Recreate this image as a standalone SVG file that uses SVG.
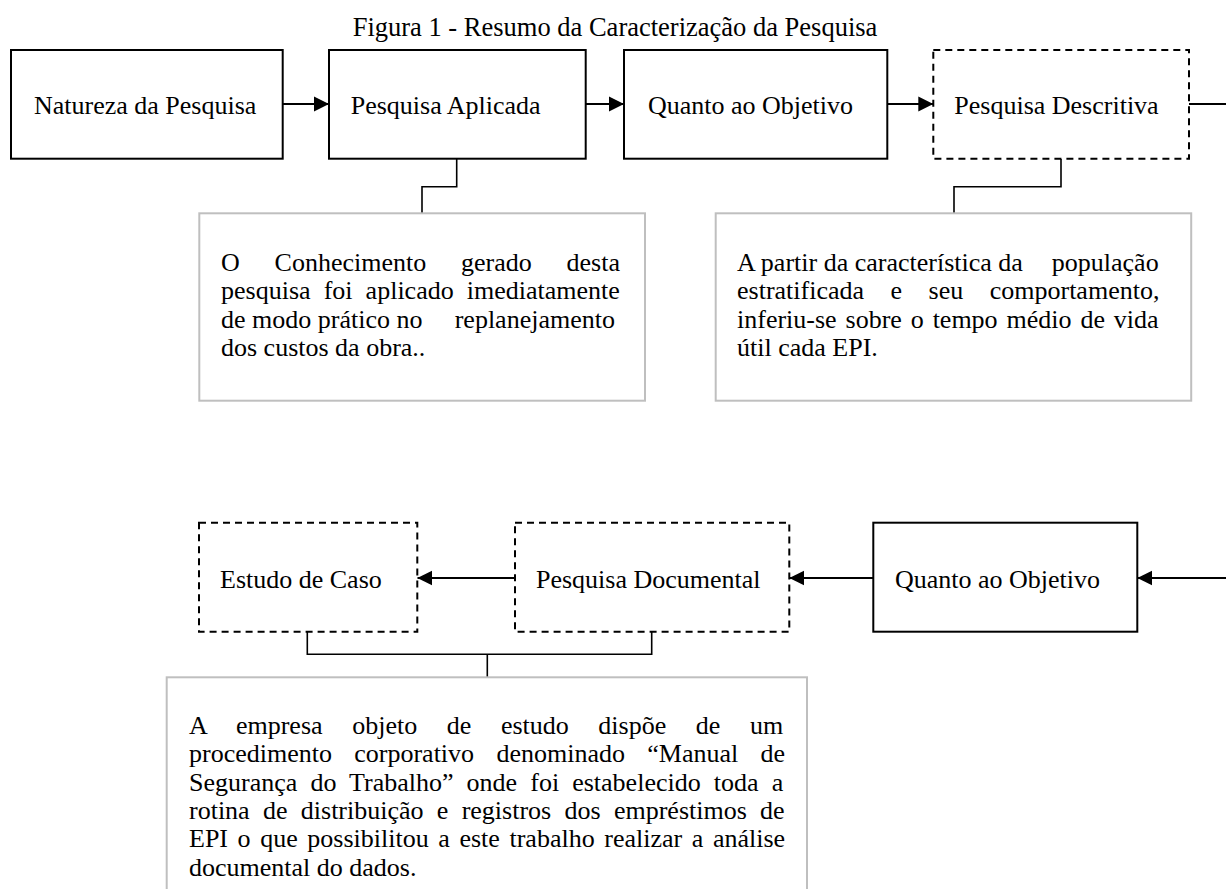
<svg xmlns="http://www.w3.org/2000/svg" width="1226" height="889" viewBox="0 0 1226 889">
<style>
text{font-family:"Liberation Serif","Times New Roman",serif;fill:#000;}
.lbl{font-size:26px;}
.title{font-size:26.5px;}
.para{font-size:26px;}
.node{fill:#fff;stroke:#000;stroke-width:2;}
.dash{fill:#fff;stroke:#000;stroke-width:2;stroke-dasharray:7 5;}
.note{fill:#fff;stroke:#bfbfbf;stroke-width:2;}
.arr{fill:none;stroke:#000;stroke-width:2;marker-end:url(#ah);}
.ln{fill:none;stroke:#000;stroke-width:1.6;}
</style>
<defs>
<marker id="ah" markerUnits="userSpaceOnUse" markerWidth="16" markerHeight="16" viewBox="0 0 16 16" refX="15" refY="8" orient="auto">
<path d="M0,0.5 L15,8 L0,15.5 Z" fill="#000"/>
</marker>
</defs>
<rect width="1226" height="889" fill="#fff"/>
<text class="title" x="352.7" y="36">Figura 1 - Resumo da Caracterização da Pesquisa</text>

<g id="connectors">
<line class="arr" x1="282.7" y1="104" x2="329" y2="104"/>
<line class="arr" x1="585.7" y1="104" x2="624" y2="104"/>
<line class="arr" x1="887.3" y1="104" x2="933.3" y2="104"/>
<line class="ln" style="stroke-width:2" x1="1189" y1="104" x2="1228" y2="104"/>
<line class="arr" x1="1228" y1="578" x2="1137.3" y2="578"/>
<line class="arr" x1="873.3" y1="578" x2="789.3" y2="578"/>
<line class="arr" x1="515" y1="578" x2="417.3" y2="578"/>
<path class="ln" d="M456.7,158.7 V186.7 H422 V213.3"/>
<path class="ln" d="M1061,158.7 V186.7 H954 V213.3"/>
<path class="ln" d="M307.3,631.7 V654.3 H651.7 V631.7"/>
<path class="ln" d="M487.3,654.3 V677.3"/>
</g>

<g id="natureza">
<rect class="node" x="11" y="50" width="271.7" height="108.7"/>
<text class="lbl" x="34" y="114">Natureza da Pesquisa</text>
</g>
<g id="aplicada">
<rect class="node" x="329" y="50" width="256.7" height="108.7"/>
<text class="lbl" x="350.7" y="114">Pesquisa Aplicada</text>
</g>
<g id="objetivo1">
<rect class="node" x="624" y="50" width="263.3" height="108.7"/>
<text class="lbl" x="648" y="114">Quanto ao Objetivo</text>
</g>
<g id="descritiva">
<rect class="dash" x="933.3" y="50" width="255.7" height="108.7"/>
<text class="lbl" x="954.3" y="114">Pesquisa Descritiva</text>
</g>

<g id="nota-aplicada">
<rect class="note" x="199.3" y="213.3" width="445.7" height="187.4"/>
<text class="para" x="221" y="271" style="word-spacing:28.3px">O Conhecimento gerado desta</text>
<text class="para" x="221" y="299.3" style="word-spacing:6.6px">pesquisa foi aplicado imediatamente</text>
<text class="para" x="221" y="327.6">de modo prático no <tspan x="454.7">replanejamento</tspan></text>
<text class="para" x="221" y="356">dos custos da obra..</text>
</g>

<g id="nota-descritiva">
<rect class="note" x="715.7" y="213.3" width="475.5" height="187.4"/>
<text class="para" x="737" y="271">A partir da característica da <tspan x="1051.8">população</tspan></text>
<text class="para" x="737" y="299.3" style="word-spacing:20px">estratificada e seu comportamento,</text>
<text class="para" x="737" y="327.6" style="word-spacing:2.4px">inferiu-se sobre o tempo médio de vida</text>
<text class="para" x="737" y="356">útil cada EPI.</text>
</g>

<g id="estudo-caso">
<rect class="dash" x="199" y="522.7" width="218.3" height="109"/>
<text class="lbl" x="220" y="588.3">Estudo de Caso</text>
</g>
<g id="documental">
<rect class="dash" x="515" y="522.7" width="274.3" height="109"/>
<text class="lbl" x="536" y="588.3">Pesquisa Documental</text>
</g>
<g id="objetivo2">
<rect class="node" x="873.3" y="522.7" width="264" height="109"/>
<text class="lbl" x="895" y="588.3">Quanto ao Objetivo</text>
</g>

<g id="nota-documental">
<rect class="note" x="166.7" y="677.3" width="640.3" height="240"/>
<text class="para" x="189" y="734" style="word-spacing:23.1px">A empresa objeto de estudo dispõe de um</text>
<text class="para" x="189" y="762.3" style="word-spacing:15.8px">procedimento corporativo denominado “Manual de</text>
<text class="para" x="189" y="790.6" style="word-spacing:6.6px">Segurança do Trabalho” onde foi estabelecido toda a</text>
<text class="para" x="189" y="819" style="word-spacing:6.8px">rotina de distribuição e registros dos empréstimos de</text>
<text class="para" x="189" y="847.3" style="word-spacing:3.1px">EPI o que possibilitou a este trabalho realizar a análise</text>
<text class="para" x="189" y="875.6">documental do dados.</text>
</g>
</svg>
